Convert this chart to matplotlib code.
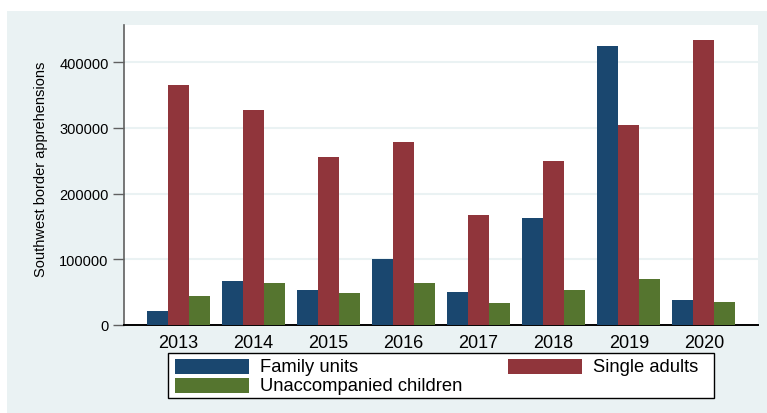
import numpy as np
import matplotlib.pyplot as plt
from matplotlib.patches import Rectangle

plt.rcParams['font.family'] = ['Liberation Sans', 'DejaVu Sans']

# Apreensões na fronteira sudoeste
anos = ['2013', '2014', '2015', '2016', '2017', '2018', '2019', '2020']
familias = [20400, 66700, 52500, 100700, 50300, 162800, 425000, 37700]
adultos = [365000, 327000, 255000, 278000, 168000, 249400, 304000, 434000]
criancas = [44300, 63600, 48400, 63600, 33600, 52900, 69700, 34600]
series = ['Family units', 'Single adults', 'Unaccompanied children']

cores = ['#1a476f', '#90353b', '#55752f']
fundo = '#eaf2f3'

W, H = 767, 414
fig = plt.figure(figsize=(W / 100, H / 100), dpi=100)
fig.patch.set_facecolor('white')
# região do gráfico (fundo azul claro estilo Stata)
fig.patches.append(Rectangle((7 / W, 0), 1 - 7 / W, 1 - 12 / H,
                             transform=fig.transFigure, facecolor=fundo,
                             edgecolor='none', zorder=-10))

ax = fig.add_axes([124 / W, (H - 325.7) / H, 634 / W, 299.7 / H])
ax.set_facecolor('white')

x = np.arange(len(anos))
w = 0.28
for i, valores in enumerate([familias, adultos, criancas]):
    ax.bar(x + (i - 1) * w, valores, w, color=cores[i], label=series[i], zorder=3)

ax.set_xlim(-0.72, len(anos) - 1 + 0.72)
ax.set_ylim(0, 457000)
ax.set_yticks([0, 100000, 200000, 300000, 400000])
ax.set_yticklabels(['0', '100000', '200000', '300000', '400000'], fontsize=10.5)
ax.set_xticks(x)
ax.set_xticklabels(anos, fontsize=13)
ax.tick_params(axis='x', length=0, pad=7)
ax.tick_params(axis='y', length=8, width=1, color='#606060', pad=3)
ax.yaxis.grid(True, color=fundo, linewidth=1.5, zorder=0)
ax.set_axisbelow(True)

for lado in ['top', 'right']:
    ax.spines[lado].set_visible(False)
ax.spines['left'].set_color('#606060')
ax.spines['left'].set_linewidth(1.2)
ax.spines['bottom'].set_color('black')
ax.spines['bottom'].set_linewidth(1.4)

ax.set_ylabel('Southwest border apprehensions', fontsize=10.5)
ax.yaxis.set_label_coords(-(124 - 48) / 634, (325.7 - 169) / 299.7)

# --- LEGENDA (montada à mão, duas colunas como no Stata) ---
def px(xp, yp):
    return xp / W, 1 - yp / H

fig.patches.append(Rectangle(px(167.5, 399), 546.5 / W, 44.7 / H,
                             transform=fig.transFigure, facecolor='white',
                             edgecolor='black', linewidth=1.0, zorder=5))
# (x da amostra, y do centro da linha) para cada série
posicoes = [(175, 367.5), (508, 367.5), (175, 386.5)]
for i, (xs, yc) in enumerate(posicoes):
    fig.patches.append(Rectangle(px(xs, yc + 7.5), 74 / W, 15 / H,
                                 transform=fig.transFigure, facecolor=cores[i],
                                 edgecolor='none', zorder=6))
    fig.text(*px(xs + 85, yc), series[i], fontsize=13.2, va='center', ha='left', zorder=7)

plt.savefig('out.png', dpi=100, facecolor=fig.get_facecolor())
plt.close()
